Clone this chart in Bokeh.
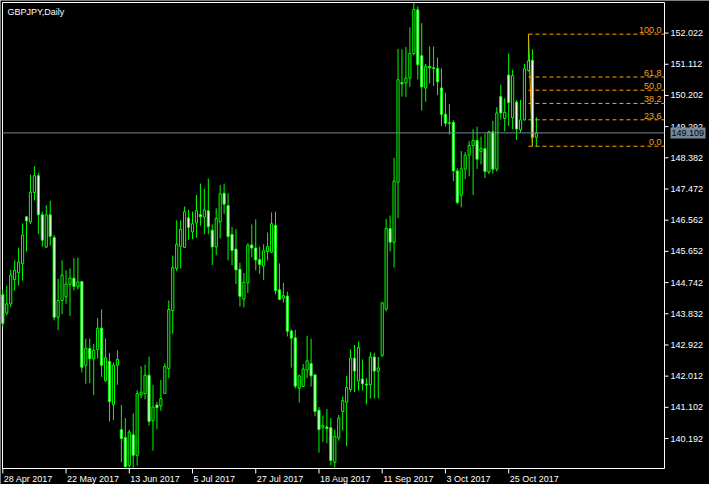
from bokeh.plotting import figure
from bokeh.models import Range1d, ColumnDataSource
from bokeh.embed import file_html
from bokeh.resources import INLINE
from bokeh.core.properties import value

symbol_title = "GBPJPY,Daily"

opens = [144.39, 143.85, 144.12, 144.83, 145.03, 145.29, 146.66, 146.51, 147.37, 147.86,
         146.72, 145.78, 146.72, 146.06, 143.73, 144.22, 144.32, 144.69, 144.87, 144.63,
         144.77, 142.33, 142.82, 142.52, 142.79, 143.41, 141.88, 142.44, 141.18, 142.33,
         140.45, 140.22, 139.40, 140.30, 139.70, 141.47, 141.50, 142.04, 140.71, 141.17,
         141.14, 141.51, 142.23, 143.92, 145.15, 145.80, 145.77, 146.63, 146.22, 146.48,
         146.73, 146.65, 146.84, 146.27, 145.78, 146.51, 147.35, 146.99, 146.15, 145.72,
         145.13, 144.26, 144.73, 145.84, 145.75, 145.41, 145.23, 145.65, 145.63, 146.41,
         144.53, 144.29, 144.35, 143.33, 143.13, 141.66, 141.71, 142.19, 142.38, 142.05,
         141.02, 140.52, 140.53, 140.51, 139.50, 140.21, 140.98, 141.25, 141.62, 142.54,
         141.87, 141.93, 141.78, 141.76, 142.57, 142.16, 142.62, 143.97, 146.32, 145.92,
         147.67, 150.58, 150.57, 150.71, 151.42, 152.70, 151.36, 150.42, 151.05, 151.01,
         150.99, 150.42, 149.65, 149.38, 149.41, 148.00, 147.29, 148.05, 148.46, 148.74,
         148.89, 148.57, 148.65, 147.97, 149.14, 148.05, 150.17, 149.53, 150.80, 149.55,
         150.01, 149.20, 149.49, 150.93, 151.23, 148.98]
highs = [144.55, 144.65, 145.12, 145.39, 145.76, 146.47, 146.69, 147.89, 148.13, 147.95,
         146.81, 147.00, 147.13, 146.13, 144.85, 145.39, 145.10, 145.16, 145.45, 145.47,
         144.79, 143.11, 143.11, 142.95, 143.71, 143.96, 143.11, 142.69, 142.41, 142.77,
         141.17, 140.79, 140.45, 140.92, 141.60, 142.30, 142.35, 142.58, 141.76, 141.26,
         141.90, 142.39, 144.22, 145.53, 146.56, 146.56, 146.96, 146.87, 146.81, 147.30,
         147.63, 147.48, 147.78, 146.44, 146.91, 147.59, 147.63, 147.35, 146.36, 146.30,
         145.32, 145.02, 145.89, 146.44, 146.59, 145.79, 145.86, 146.20, 146.79, 146.81,
         145.30, 144.73, 144.48, 143.38, 143.36, 142.06, 142.37, 143.19, 143.11, 142.06,
         141.11, 140.86, 141.05, 140.79, 140.45, 140.88, 141.42, 142.02, 142.80, 142.92,
         143.02, 142.50, 141.95, 142.71, 142.69, 142.57, 144.18, 146.60, 146.70, 148.38,
         151.56, 151.55, 151.62, 152.19, 152.90, 152.80, 152.31, 151.12, 151.63, 151.63,
         151.31, 150.99, 150.28, 149.95, 149.48, 148.08, 148.58, 148.55, 148.87, 149.22,
         149.29, 149.00, 149.09, 149.17, 149.46, 149.86, 150.52, 150.12, 151.43, 150.95,
         150.07, 150.07, 151.12, 151.99, 151.55, 149.57]
lows = [143.45, 143.79, 144.02, 144.51, 144.65, 144.80, 145.65, 146.45, 147.14, 146.15,
        145.79, 145.75, 145.82, 143.64, 143.35, 143.82, 144.12, 143.77, 144.51, 144.54,
        142.12, 141.79, 141.81, 141.46, 142.52, 141.99, 141.85, 140.69, 140.73, 141.76,
        139.50, 139.34, 139.34, 139.34, 139.40, 141.36, 141.33, 140.57, 139.84, 140.46,
        141.00, 141.49, 141.95, 143.25, 145.08, 145.15, 145.75, 145.99, 146.01, 146.05,
        146.40, 146.15, 146.15, 145.25, 145.54, 146.03, 146.75, 145.39, 145.25, 144.70,
        144.04, 144.02, 144.44, 145.48, 145.10, 144.99, 144.82, 145.39, 145.60, 144.40,
        144.23, 144.16, 143.17, 142.26, 141.65, 141.24, 141.70, 141.95, 141.71, 140.84,
        139.78, 140.09, 140.05, 139.41, 139.34, 140.13, 140.43, 139.97, 141.55, 141.55,
        141.59, 141.59, 141.19, 141.36, 141.36, 141.36, 142.57, 143.90, 145.65, 145.18,
        146.62, 150.17, 150.16, 150.45, 151.37, 150.67, 149.76, 150.02, 150.55, 150.48,
        150.21, 149.31, 149.29, 149.06, 147.70, 147.03, 146.94, 147.76, 147.84, 147.30,
        148.06, 148.19, 147.79, 147.91, 147.92, 147.98, 149.50, 149.15, 149.31, 149.22,
        148.90, 149.12, 149.46, 150.90, 148.72, 148.72]
closes = [143.55, 144.12, 144.96, 145.10, 145.34, 146.13, 146.54, 147.38, 147.86, 146.72,
          145.98, 146.72, 146.09, 143.73, 144.22, 144.96, 144.70, 144.87, 144.63, 144.76,
          142.27, 142.82, 142.52, 142.76, 143.41, 142.33, 142.55, 141.27, 142.33, 142.50,
          140.19, 139.37, 140.38, 139.70, 141.50, 141.54, 142.04, 140.69, 141.11, 141.09,
          141.36, 142.30, 143.96, 145.18, 145.86, 146.30, 146.81, 146.35, 146.46, 146.84,
          146.66, 146.86, 146.37, 145.78, 146.61, 147.33, 147.03, 146.08, 145.68, 145.11,
          144.34, 144.75, 145.84, 145.75, 145.40, 145.27, 145.67, 145.79, 146.46, 144.51,
          144.25, 144.36, 143.32, 143.12, 141.72, 142.02, 142.22, 142.46, 142.02, 140.98,
          140.45, 140.57, 140.48, 139.55, 140.26, 140.79, 141.30, 141.68, 142.54, 142.16,
          142.85, 141.79, 141.75, 142.57, 142.16, 142.25, 144.15, 146.32, 145.92, 147.70,
          150.66, 150.54, 150.71, 151.43, 152.71, 151.10, 150.45, 151.05, 151.01, 150.99,
          150.60, 149.65, 149.39, 149.41, 148.00, 147.08, 148.06, 148.46, 148.74, 148.89,
          148.34, 148.65, 147.98, 149.14, 148.05, 149.69, 149.69, 149.71, 149.99, 150.78,
          149.22, 149.49, 150.98, 151.21, 148.98, 149.109]

date_label_bars = [0, 16, 32, 48, 64, 80, 96, 112, 128]
date_labels = ["28 Apr 2017", "22 May 2017", "13 Jun 2017", "5 Jul 2017", "27 Jul 2017",
               "18 Aug 2017", "11 Sep 2017", "3 Oct 2017", "25 Oct 2017"]
price_ticks = [140.192, 141.102, 142.012, 142.922, 143.832, 144.742, 145.652,
               146.562, 147.472, 148.382, 149.292, 150.202, 151.112, 152.022]

fib_ratios = [0.0, 23.6, 38.2, 50.0, 61.8, 100.0]
fib_high = 151.99
fib_low = 148.72
fib_bars = [133, 134]
last_price = 149.109

# visible window of the chart (bars / prices)
bar_lo, bar_hi = -0.075, 167.425
price_lo, price_hi = 139.317, 152.914

# layout (pixels)
FIG_W, FIG_H = 709, 484
BOX_L, BOX_T, BOX_R, BOX_B = 2, 2, 664, 468

FONT = value("Liberation Sans")
GREEN = "#00FF00"
ORANGE_LINE = "#FFA500"
ORANGE_TEXT = "#F4A32A"
GREY = "#778899"

ppx = (BOX_R - BOX_L) / (bar_hi - bar_lo)
ppy = (BOX_B - BOX_T) / (price_hi - price_lo)
x_range = Range1d(bar_lo - BOX_L / ppx, bar_lo + (FIG_W - BOX_L) / ppx)
y_range = Range1d(price_lo - (FIG_H - BOX_B) / ppy, price_hi + BOX_T / ppy)

n = len(opens)
src = ColumnDataSource(dict(
    x=list(range(n)), high=highs, low=lows,
    top=[max(o, c) for o, c in zip(opens, closes)],
    bot=[min(o, c) for o, c in zip(opens, closes)],
    fill=["white" if c < o else "black" for o, c in zip(opens, closes)],
))

p = figure(width=FIG_W, height=FIG_H, output_backend="svg", toolbar_location=None,
           x_range=x_range, y_range=y_range, x_axis_location=None, y_axis_location=None,
           background_fill_color="black", border_fill_color="black",
           outline_line_color=None, min_border=0)
p.grid.visible = False

# chart box (top/left border, right price scale line, bottom time scale line)
p.quad(left=[bar_lo], right=[bar_hi], bottom=[price_lo], top=[price_hi],
       fill_color=None, line_color="white", line_width=1)

# candles
p.segment(x0="x", y0="low", x1="x", y1="high", source=src, line_color=GREEN, line_width=1)
p.vbar(x="x", top="top", bottom="bot", width=0.55, source=src,
       fill_color="fill", line_color=GREEN, line_width=1)

# price scale (right)
m = len(price_ticks)
p.segment(x0=[bar_hi] * m, x1=[bar_hi + 4 / ppx] * m, y0=price_ticks, y1=price_ticks,
          line_color="white", line_width=1)
p.text(x=[bar_hi] * m, y=price_ticks, text=["%.3f" % t for t in price_ticks],
       x_offset=6, text_baseline="middle", text_align="left", text_color="white",
       text_font=FONT, text_font_size="9px")

# time scale (bottom)
k = len(date_label_bars)
p.segment(x0=date_label_bars, x1=date_label_bars, y0=[price_lo] * k,
          y1=[price_lo - 5 / ppy] * k, line_color="white", line_width=1)
p.text(x=date_label_bars, y=[price_lo] * k, text=date_labels, x_offset=1, y_offset=5,
       text_baseline="top", text_align="left", text_color="white",
       text_font=FONT, text_font_size="9px")

# fibonacci retracement
levels = [fib_low + r / 100.0 * (fib_high - fib_low) for r in fib_ratios]
p.segment(x0=[fib_bars[0]] * len(levels), x1=[bar_hi] * len(levels), y0=levels, y1=levels,
          line_color=ORANGE_LINE, line_dash="4 3", line_width=1)
p.line(x=fib_bars, y=[fib_high, fib_low], line_color=ORANGE_LINE, line_width=1)
p.text(x=[bar_hi] * len(levels), y=levels, text=["%.1f" % r for r in fib_ratios],
       text_align="right", text_baseline="bottom", x_offset=-3, y_offset=-1,
       text_color=ORANGE_TEXT, text_font=FONT, text_font_size="9px")

# last price line and label
p.segment(x0=[bar_lo], x1=[bar_hi], y0=[last_price], y1=[last_price],
          line_color=GREY, line_width=1)
p.rect(x=[bar_hi + (6 + 17.5) / ppx], y=[last_price], width=35, height=11,
       width_units="screen", height_units="screen", fill_color=GREY, line_color=None)
p.text(x=[bar_hi], y=[last_price], text=["%.3f" % last_price], x_offset=7,
       text_baseline="middle", text_align="left", text_color="black",
       text_font=FONT, text_font_size="9px")

# title
p.text(x=[bar_lo], y=[price_hi], text=[symbol_title], x_offset=5, y_offset=4,
       text_baseline="top", text_align="left", text_color="white",
       text_font=FONT, text_font_size="9px")

open("out.html", "w").write(file_html(p, INLINE))
